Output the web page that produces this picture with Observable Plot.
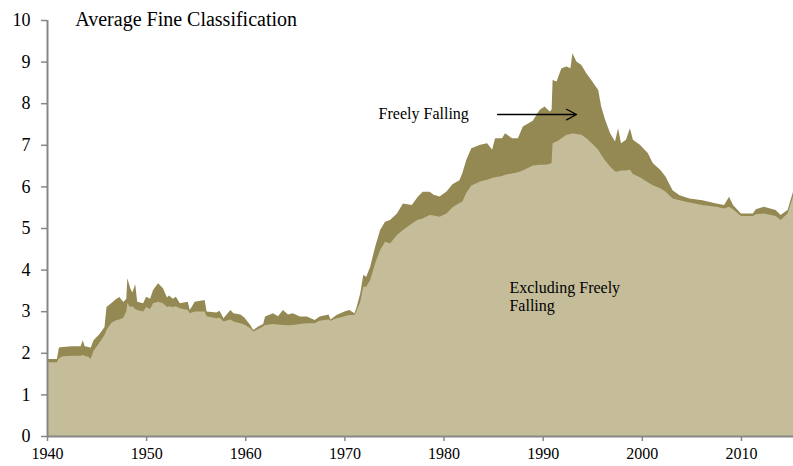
<!DOCTYPE html>
<html>
<head>
<meta charset="utf-8">
<script src="https://cdn.jsdelivr.net/npm/d3@7"></script>
<script src="https://cdn.jsdelivr.net/npm/@observablehq/plot@0.6"></script>
<style>
  html, body { margin: 0; padding: 0; background: #fff; }
</style>
</head>
<body>
<div id="chart"></div>
<script>
const years = [
  1940.0, 1941.0, 1941.2, 1941.6, 1942.5, 1943.4, 1943.6, 1943.8, 1944.2, 1944.4,
  1944.7, 1945.3, 1945.8, 1946.0, 1946.5, 1947.0, 1947.3, 1947.7, 1948.0, 1948.1,
  1948.4, 1948.6, 1948.9, 1949.1, 1949.7, 1950.0, 1950.4, 1950.7, 1951.2, 1951.7,
  1952.1, 1952.3, 1952.7, 1953.0, 1953.4, 1954.2, 1954.4, 1954.9, 1955.9, 1956.1,
  1957.1, 1957.4, 1957.8, 1958.5, 1958.8, 1959.5, 1959.9, 1960.5, 1960.8, 1961.3,
  1961.8, 1962.0, 1962.8, 1963.3, 1963.8, 1964.3, 1964.8, 1965.5, 1966.2, 1967.0,
  1967.5, 1968.4, 1968.6, 1969.2, 1969.6, 1970.0, 1970.5, 1971.0, 1971.2, 1971.6,
  1971.9, 1972.2, 1972.6, 1973.1, 1973.6, 1974.1, 1974.6, 1975.3, 1975.9, 1976.8,
  1977.4, 1977.9, 1978.6, 1979.0, 1979.6, 1980.3, 1980.9, 1981.6, 1981.9, 1982.3,
  1982.8, 1983.7, 1984.4, 1984.9, 1985.2, 1985.9, 1986.2, 1986.9, 1987.5, 1988.0,
  1989.0, 1989.7, 1990.2, 1990.7, 1990.9, 1991.0, 1991.4, 1991.7, 1991.9, 1992.4,
  1992.8, 1993.0, 1993.4, 1993.9, 1994.4, 1994.9, 1995.6, 1995.9, 1996.3, 1996.8,
  1997.3, 1997.6, 1997.9, 1998.4, 1998.8, 1999.1, 1999.8, 2000.6, 2001.1, 2001.9,
  2002.4, 2003.1, 2003.8, 2004.8, 2006.1, 2007.5, 2008.3, 2008.8, 2009.2, 2010.0,
  2011.2, 2011.5, 2012.3, 2013.5, 2014.0, 2014.7, 2015.25
];
// Average fine classification, all regimes (top of dark band)
const freelyFalling = [
  1.85, 1.85, 2.13, 2.14, 2.16, 2.16, 2.30, 2.16, 2.14, 2.12,
  2.30, 2.45, 2.62, 3.10, 3.20, 3.30, 3.34, 3.22, 3.30, 3.79,
  3.55, 3.45, 3.65, 3.23, 3.19, 3.35, 3.30, 3.51, 3.67, 3.55,
  3.33, 3.38, 3.30, 3.35, 3.19, 3.23, 3.03, 3.23, 3.27, 2.99,
  2.97, 3.01, 2.83, 3.03, 2.95, 2.92, 2.85, 2.67, 2.55, 2.63,
  2.69, 2.87, 2.95, 2.88, 3.03, 2.92, 2.95, 2.87, 2.87, 2.79,
  2.87, 2.92, 2.80, 2.91, 2.95, 2.99, 3.03, 2.95, 3.07, 3.43,
  3.87, 3.83, 4.07, 4.55, 4.95, 5.15, 5.19, 5.35, 5.59, 5.55,
  5.75, 5.87, 5.87, 5.80, 5.76, 5.88, 6.05, 6.15, 6.32, 6.64,
  6.92, 7.00, 7.04, 6.88, 7.16, 7.16, 7.28, 7.16, 7.16, 7.44,
  7.58, 7.84, 7.92, 7.80, 7.84, 8.56, 8.52, 8.72, 8.84, 8.88,
  8.84, 9.20, 9.00, 8.92, 8.72, 8.56, 8.32, 7.92, 7.60, 7.28,
  7.08, 7.40, 7.04, 7.12, 7.40, 7.12, 7.00, 6.80, 6.56, 6.39,
  6.23, 5.91, 5.79, 5.71, 5.67, 5.59, 5.55, 5.75, 5.55, 5.35,
  5.35, 5.45, 5.51, 5.43, 5.31, 5.43, 5.87
];
// Average fine classification excluding freely falling episodes
const excludingFF = [
  1.77, 1.77, 1.87, 1.92, 1.93, 1.93, 1.95, 1.93, 1.90, 1.85,
  2.05, 2.25, 2.43, 2.55, 2.72, 2.79, 2.80, 2.84, 3.00, 3.20,
  3.10, 3.12, 3.05, 3.03, 2.99, 3.10, 3.05, 3.19, 3.23, 3.19,
  3.10, 3.12, 3.10, 3.12, 3.07, 3.03, 2.95, 2.99, 2.99, 2.88,
  2.83, 2.85, 2.75, 2.80, 2.75, 2.71, 2.68, 2.59, 2.51, 2.57,
  2.63, 2.67, 2.69, 2.68, 2.67, 2.66, 2.67, 2.69, 2.71, 2.71,
  2.77, 2.80, 2.77, 2.83, 2.85, 2.88, 2.91, 2.91, 2.99, 3.23,
  3.59, 3.59, 3.75, 4.15, 4.47, 4.67, 4.63, 4.83, 4.95, 5.11,
  5.20, 5.23, 5.31, 5.30, 5.27, 5.35, 5.50, 5.60, 5.64, 5.85,
  6.02, 6.12, 6.16, 6.20, 6.22, 6.25, 6.28, 6.31, 6.34, 6.38,
  6.50, 6.52, 6.52, 6.54, 6.56, 7.04, 7.08, 7.12, 7.16, 7.24,
  7.26, 7.28, 7.26, 7.24, 7.16, 7.05, 6.88, 6.76, 6.62, 6.48,
  6.36, 6.36, 6.38, 6.38, 6.40, 6.30, 6.22, 6.10, 6.03, 5.95,
  5.87, 5.71, 5.67, 5.61, 5.55, 5.51, 5.47, 5.51, 5.45, 5.29,
  5.29, 5.33, 5.35, 5.29, 5.19, 5.35, 5.75
];
const xTicks = [1940, 1950, 1960, 1970, 1980, 1990, 2000, 2010];
const yTicks = [0, 1, 2, 3, 4, 5, 6, 7, 8, 9, 10];
const titleText = "Average Fine Classification";
const labelFF = "Freely Falling";
const labelExcl = "Excluding Freely\nFalling";

const data = years.map((yr, i) => ({ year: yr, top: freelyFalling[i], low: excludingFF[i] }));

const axisGray = "#878787";
const chart = Plot.plot({
  width: 793,
  height: 466,
  marginLeft: 47,
  marginRight: 0,
  marginTop: 20,
  marginBottom: 30,
  style: { fontFamily: "'Liberation Serif', 'Times New Roman', serif", background: "#fff", color: "#000" },
  x: { domain: [1940, 2015.25] },
  y: { domain: [0, 10] },
  marks: [
    Plot.areaY(data, { x: "year", y: "top", fill: "#948953" }),
    Plot.areaY(data, { x: "year", y: "low", fill: "#c5bd99" }),
    Plot.axisY({ ticks: yTicks, tickSize: 6, tickPadding: 11, fontSize: 18, stroke: axisGray, strokeWidth: 1.5, fill: "#000", tickFormat: d => String(d) }),
    Plot.axisX({ ticks: xTicks, tickSize: 5, tickPadding: 6, fontSize: 16, stroke: axisGray, strokeWidth: 1.5, fill: "#000", tickFormat: d => String(d) }),
    Plot.ruleX([1940], { y1: 0, y2: 10, stroke: axisGray, strokeWidth: 2 }),
    Plot.ruleY([0], { x1: 1940, x2: 2015.25, stroke: axisGray, strokeWidth: 2 }),
    Plot.text([titleText], { x: 1942.8, y: 10.03, text: d => d, textAnchor: "start", fontSize: 20, fill: "#000" }),
    Plot.text([labelFF], { x: 1973.4, y: 7.76, text: d => d, textAnchor: "start", fontSize: 16, fill: "#000" }),
    Plot.arrow([{ x1: 1985.4, y1: 7.74, x2: 1993.36, y2: 7.74 }], { x1: "x1", y1: "y1", x2: "x2", y2: "y2", stroke: "#000", strokeWidth: 1.3, headLength: 13, headAngle: 56 }),
    Plot.text([labelExcl], { x: 1986.6, y: 3.37, text: d => d, textAnchor: "start", lineAnchor: "middle", lineHeight: 1.1, fontSize: 16, fill: "#000" })
  ]
});
document.getElementById("chart").appendChild(chart);
</script>
</body>
</html>
